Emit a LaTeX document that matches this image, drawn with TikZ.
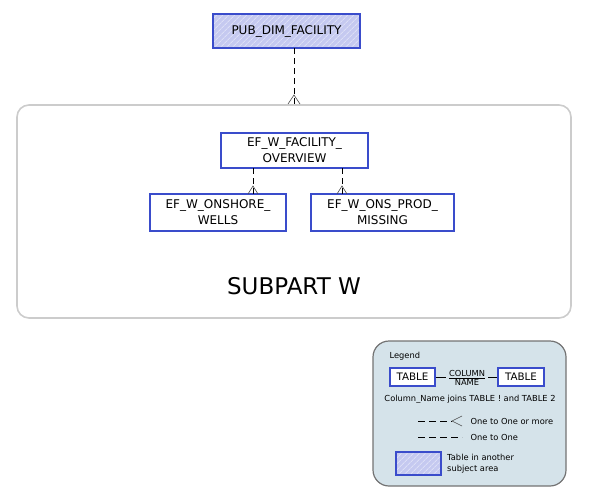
\documentclass[tikz,border=0pt]{standalone}
\usepackage{fontspec}
\setmainfont{DejaVu Sans}
\usetikzlibrary{patterns.meta}
\definecolor{boxblue}{HTML}{3A4CCB}
\definecolor{hatchfill}{HTML}{C5C9F0}
\definecolor{hatchline}{HTML}{DCDFF6}
\definecolor{legfill}{HTML}{D5E3EA}
\definecolor{areagray}{HTML}{CCCCCC}
\begin{document}
\begin{tikzpicture}[x=1pt,y=-1pt,
  tbl/.style={draw=boxblue,line width=1.6pt,fill=white,inner sep=0pt,font=\fontsize{12}{16}\selectfont,align=center},
  hatched/.style={tbl,fill=none,preaction={fill=hatchfill},preaction={pattern={Lines[angle=45,distance=4pt,line width=1pt]},pattern color=hatchline}},
  conn/.style={line width=0.8pt,dash pattern=on 6pt off 4pt},
  crow/.style={line width=0.6pt,draw=black!70},
  legtext/.style={font=\fontsize{8.3}{10.5}\selectfont}
]
\useasboundingbox (0,0) rectangle (591,501);
% subject area
\draw[areagray,line width=1.6pt,rounded corners=12pt] (17,105) rectangle (571,318);
\node[font=\fontsize{23}{26}\selectfont] (sw) at (294,286) {SUBPART W};
% tables
\node[hatched,minimum width=147pt,minimum height=34pt] (pub) at (286.5,31) {PUB\_DIM\_FACILITY};
\node[tbl,minimum width=147pt,minimum height=35pt] (ov) at (294.5,150.5) {EF\_W\_FACILITY\_\\OVERVIEW};
\node[tbl,minimum width=136pt,minimum height=37pt] (wells) at (218,212.5) {EF\_W\_ONSHORE\_\\WELLS};
\node[tbl,minimum width=143pt,minimum height=37pt] (miss) at (382.5,212.5) {EF\_W\_ONS\_PROD\_\\MISSING};
% connectors
\coordinate (areatop) at (294,104);
\draw[conn] (294,48) -- (areatop);
\draw[crow] (288,104) -- (294,95) -- (300,104);
\draw[conn] (253,168) -- (253,194);
\draw[crow] (248,194) -- (253,186) -- (258,194);
\draw[conn] (342,168) -- (342,194);
\draw[crow] (337,194) -- (342,186) -- (347,194);
% legend
\draw[draw=black!55,fill=legfill,line width=1.2pt,rounded corners=16pt] (373,341) rectangle (566,486);
\node[anchor=west,legtext] (leg) at (386,356) {Legend};
\node[tbl,line width=1.3pt,minimum width=45pt,minimum height=18pt,font=\fontsize{10.3}{12}\selectfont] (t1) at (412.5,377) {TABLE};
\node[tbl,line width=1.3pt,minimum width=46pt,minimum height=18pt,font=\fontsize{10.3}{12}\selectfont] (t2) at (521,377) {TABLE};
\node[font=\fontsize{8.3}{9.5}\selectfont,inner sep=0pt,align=center] (cn) at (467,378) {\underline{COLUMN}\\NAME};
\draw[line width=0.6pt] (t1.east) -- (446,377);
\draw[line width=0.6pt] (488,377) -- (t2.west);
\node[legtext] (cj) at (470,399) {Column\_Name joins TABLE ! and TABLE 2};
\coordinate (l1a) at (418,421);
\coordinate (l1b) at (452,421);
\draw[line width=0.6pt,dash pattern=on 7pt off 4pt] (l1a) -- (l1b);
\draw[crow] (462,416) -- (452,421) -- (462,426);
\node[anchor=west,legtext] (om) at (467,421) {One to One or more};
\coordinate (l2a) at (418,437);
\coordinate (l2b) at (462,437);
\draw[line width=0.6pt,dash pattern=on 7pt off 4pt] (l2a) -- (l2b);
\node[anchor=west,legtext] (oo) at (467,437) {One to One};
\node[hatched,line width=1.3pt,minimum width=45pt,minimum height=23pt] (hb) at (418.5,463.5) {};
\node[anchor=west,align=left,legtext,inner sep=0pt] (ta) at (447,463.5) {Table in another\\subject area};
\end{tikzpicture}
\end{document}
